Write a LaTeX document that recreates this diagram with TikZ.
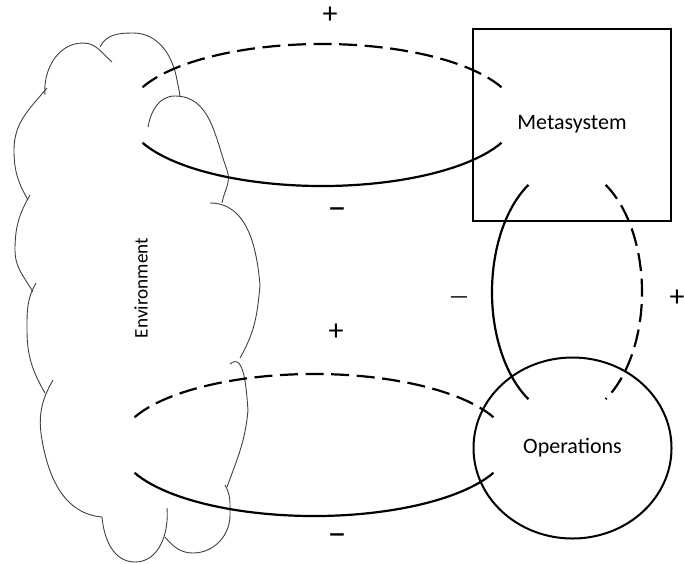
\documentclass[tikz,border=0pt]{standalone}
\usepackage{fontspec}
\setmainfont{Carlito}
\usepackage{tikz}
\usetikzlibrary{calc,shapes.geometric}
\tikzset{
    % Boxes of the model (system parts)
    systembox/.style={
        rectangle, draw=black, line width=1pt,
        minimum width=99pt, minimum height=96pt, inner sep=0pt,
        font=\fontsize{11}{13}\selectfont
    },
    systemoval/.style={
        ellipse, draw=black, line width=1pt,
        minimum width=99pt, minimum height=90.5pt, inner sep=0pt,
        font=\fontsize{11}{13}\selectfont
    },
    % Cloud outline and its label
    cloudline/.style={line width=0.45pt, black!75},
    cloudlabel/.style={font=\fontsize{9.6}{11}\selectfont, rotate=90},
    % Sign labels of the loops
    signlabel/.style={font=\fontsize{15}{17}\selectfont, inner sep=0pt},
    minuslabel/.style={font=\fontsize{19}{21}\selectfont, inner sep=0pt},
    thinsign/.style={font=\fontsize{11}{13}\selectfont, inner sep=0pt},
}
\tikzset{
    % Halves of the feedback loops
    posloop/.style={line width=1.1pt, dash pattern=on 9pt off 3.8pt},
    negloop/.style={line width=1.1pt},
}
\begin{document}
\begin{tikzpicture}[x=0.5pt,y=-0.5pt]
      \clip (0,0) rectangle (684,563);
      % cloud (environment)
      \draw[cloudline] (45,95) to[out=95,in=180] (83,43) to[out=0,in=140] (112,62);
      \draw[cloudline] (100,47) to[out=65,in=180] (133,33) to[out=0,in=100] (177,80) to[out=-80,in=95] (180,97);
      \draw[cloudline] (148,127) to[out=80,in=180] (175,96) to[out=0,in=110] (227,170) to[out=-70,in=80] (222,203);
      \draw[cloudline] (210,203) to[out=0,in=95] (260,285) to[out=-95,in=60] (240,358);
      \draw[cloudline] (230,364) to[out=40,in=95] (248,410) to[out=-95,in=70] (227,487);
      \draw[cloudline] (225,485) to[out=-60,in=90] (230,515) to[out=-90,in=0] (193,553) to[out=180,in=-50] (165,537);
      \draw[cloudline] (167,508) to[out=-85,in=0] (135,562) to[out=180,in=-85] (102,517);
      \draw[cloudline] (102,517) to[out=175,in=-80] (42,440) to[out=100,in=-120] (53,380);
      \draw[cloudline] (45,393) to[out=120,in=-90] (27,330) to[out=90,in=-120] (36,283);
      \draw[cloudline] (33,292) to[out=120,in=-90] (15,250) to[out=90,in=-120] (30,195);
      \draw[cloudline] (28,200) to[out=120,in=-90] (14,150) to[out=90,in=-130] (47,88);
      \node[cloudlabel] (env) at (141,288) {Environment};
      % system parts
      \node[systembox] (meta) at (572,124.5) {Metasystem};
      \node[systemoval] (ops) at (572.5,448) {Operations};
      % loop centres
      \coordinate (toploop) at (322,115);
      \coordinate (botloop) at (314,445);
      \coordinate (midloop) at (567,292);
      % horizontal loops
      \foreach \c in {toploop,botloop}{
        \draw[posloop] (\c) ++(157:97.5pt and 35.5pt) arc[start angle=157, end angle=23, x radius=97.5pt, y radius=35.5pt];
        \draw[negloop] (\c) ++(203:97.5pt and 35.5pt) arc[start angle=203, end angle=337, x radius=97.5pt, y radius=35.5pt];
      }
      % vertical loop
      \draw[negloop] (midloop) ++(121:37.5pt and 62.5pt) arc[start angle=121, end angle=239, x radius=37.5pt, y radius=62.5pt];
      \draw[posloop] (midloop) ++(59:37.5pt and 62.5pt) arc[start angle=59, end angle=-59, x radius=37.5pt, y radius=62.5pt];
      % signs
      \node[signlabel] (toppos) at (330,15) {+};
      \node[minuslabel] (topneg) at (337,214) {–};
      \node[signlabel] (botpos) at (336,332) {+};
      \node[minuslabel] (botneg) at (337,540) {–};
      \node[thinsign] (midneg) at (459,300) {—};
      \node[signlabel] (midpos) at (677,298) {+};
    \end{tikzpicture}
\end{document}
